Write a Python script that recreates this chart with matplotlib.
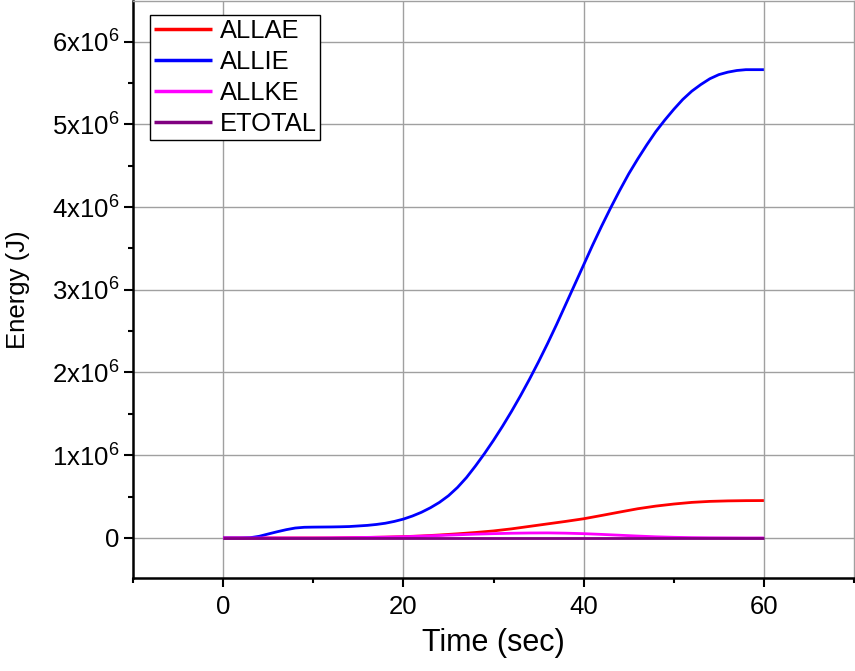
import numpy as np
import matplotlib.pyplot as plt
from matplotlib.ticker import MultipleLocator, FuncFormatter

plt.rcParams['font.family'] = ['Liberation Sans', 'DejaVu Sans']
plt.rcParams['mathtext.default'] = 'regular'

# internal energy sampled every second (J)
time_ie = list(range(0, 61))
allie = [0, 0, 0, 0.003e6, 0.02e6, 0.048e6, 0.075e6, 0.10e6, 0.12e6,
         0.129e6, 0.131e6, 0.132e6, 0.133e6, 0.135e6, 0.138e6, 0.145e6,
         0.152e6, 0.163e6, 0.178e6, 0.2e6, 0.228e6, 0.265e6, 0.31e6,
         0.365e6, 0.43e6, 0.51e6, 0.61e6, 0.73e6, 0.87e6, 1.02e6, 1.18e6,
         1.35e6, 1.53e6, 1.72e6, 1.92e6, 2.13e6, 2.35e6, 2.58e6, 2.82e6,
         3.06e6, 3.3e6, 3.54e6, 3.77e6, 3.99e6, 4.2e6, 4.4e6, 4.58e6,
         4.75e6, 4.91e6, 5.05e6, 5.18e6, 5.3e6, 5.4e6, 5.48e6, 5.55e6,
         5.6e6, 5.63e6, 5.65e6, 5.66e6, 5.66e6, 5.66e6]

# artificial strain, kinetic and total energy every two seconds (J)
time = [0, 2, 4, 6, 8, 10, 12, 14, 16, 18, 20, 22, 24, 26, 28, 30,
        32, 34, 36, 38, 40, 42, 44, 46, 48, 50, 52, 54, 56, 58, 60]
allae = [0, 0, 0, 0, 0, 0, 0, 0.003e6, 0.006e6, 0.01e6, 0.016e6,
         0.024e6, 0.036e6, 0.05e6, 0.066e6, 0.085e6, 0.11e6, 0.14e6, 0.17e6,
         0.2e6, 0.232e6, 0.272e6, 0.313e6, 0.353e6, 0.385e6, 0.41e6, 0.43e6,
         0.442e6, 0.448e6, 0.451e6, 0.452e6]
allke = [0, 0, 0, 0, 0, 0, 0.002e6, 0.004e6, 0.007e6, 0.01e6,
         0.015e6, 0.022e6, 0.03e6, 0.038e6, 0.046e6, 0.052e6, 0.057e6,
         0.06e6, 0.061e6, 0.058e6, 0.052e6, 0.043e6, 0.033e6, 0.023e6,
         0.014e6, 0.008e6, 0.004e6, 0.002e6, 0.001e6, 0, 0]
etotal = [0] * len(time)

fig = plt.figure(figsize=(8.55, 6.71), dpi=100)
ax = fig.add_axes([133 / 855, 93 / 671, 721 / 855, 577 / 671])

ax.grid(True, color='#a0a0a0', lw=1)
ax.set_axisbelow(True)

ax.plot(time, allae, color='#ff0000', lw=2, label='ALLAE', solid_capstyle='butt')
ax.plot(time_ie, allie, color='#0000ff', lw=2, label='ALLIE', solid_capstyle='butt')
ax.plot(time, allke, color='#ff00ff', lw=2, label='ALLKE', solid_capstyle='butt')
ax.plot(time, etotal, color='#800080', lw=2, label='ETOTAL', solid_capstyle='butt')

ax.set_xlim(-10, 70)
ax.set_ylim(-0.484e6, 6.49e6)

ax.xaxis.set_major_locator(MultipleLocator(20))
ax.xaxis.set_minor_locator(MultipleLocator(10))
ax.yaxis.set_major_locator(MultipleLocator(1e6))
ax.yaxis.set_minor_locator(MultipleLocator(0.5e6))


def energy_fmt(v, pos):
    n = int(round(v / 1e6))
    if n == 0:
        return '0'
    return '%dx10$^{6}$' % n


ax.yaxis.set_major_formatter(FuncFormatter(energy_fmt))

ax.tick_params(which='major', direction='out', length=6.5, width=1.5,
               labelsize=18.5, color='black')
ax.tick_params(which='minor', direction='out', length=3.5, width=1.5,
               color='black')
ax.tick_params(axis='x', pad=6)

for side in ['left', 'bottom']:
    ax.spines[side].set_linewidth(1.8)
    ax.spines[side].set_color('black')
for side in ['top', 'right']:
    ax.spines[side].set_linewidth(1)
    ax.spines[side].set_color('#a0a0a0')

ax.set_xlabel('Time (sec)', fontsize=22, labelpad=6)
ax.set_ylabel('Energy (J)', fontsize=18.5, labelpad=16)

leg = ax.legend(loc='upper left', bbox_to_anchor=(0.0236, 0.9757),
                borderaxespad=0, fontsize=18.4, handlelength=2.27,
                handletextpad=0.3, labelspacing=0.28, borderpad=0.15,
                fancybox=False, framealpha=1, edgecolor='black')
leg.get_frame().set_linewidth(1)
for h in leg.get_lines():
    h.set_linewidth(2.5)

fig.savefig('out.png', dpi=100)
